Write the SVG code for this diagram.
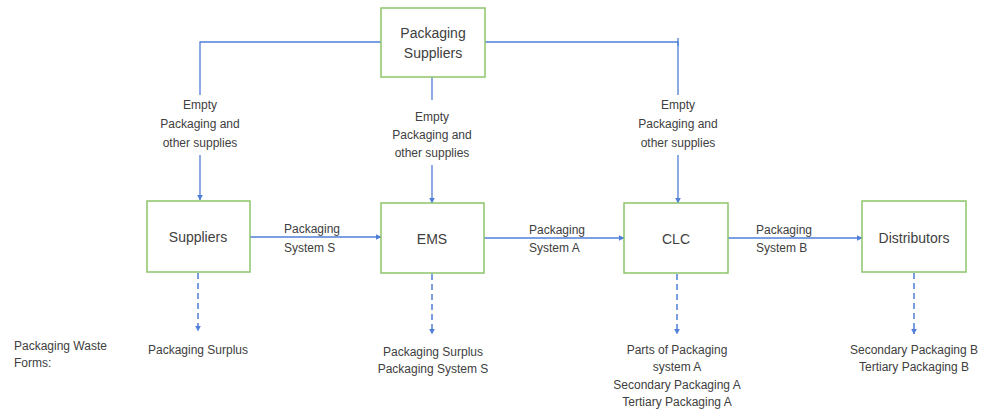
<svg xmlns="http://www.w3.org/2000/svg" width="982" height="412" viewBox="0 0 982 412">
  <style>
    .box { fill: #ffffff; stroke: #8cc46a; stroke-width: 1.5; }
    .flow { fill: none; stroke: #4f7fd6; stroke-width: 1.3; }
    .waste { fill: none; stroke: #4f7fd6; stroke-width: 1.5; stroke-dasharray: 6 4; }
    text { font-family: "Liberation Sans", Arial, sans-serif; font-size: 12px; fill: #404040; }
    .c { text-anchor: middle; }
    .node { font-size: 14px; }
  </style>
  <defs>
    <marker id="arr" viewBox="0 0 10 10" refX="9" refY="5" markerWidth="6" markerHeight="6" orient="auto" markerUnits="userSpaceOnUse">
      <path d="M0,0 L10,5 L0,10 z" fill="#4f7fd6"/>
    </marker>
  </defs>
  <rect width="982" height="412" fill="#ffffff"/>

  <g id="connectors">
    <!-- supply lines from Packaging Suppliers -->
    <path class="flow" d="M381,42 H200 V95"/>
    <path class="flow" d="M200,155 V200" marker-end="url(#arr)"/>
    <path class="flow" d="M432,77 V100"/>
    <path class="flow" d="M432,165 V203" marker-end="url(#arr)"/>
    <path class="flow" d="M485,42 H678 V95"/>
    <path class="flow" d="M678,38 V46"/>
    <path class="flow" d="M678,155 V203" marker-end="url(#arr)"/>
    <!-- packaging system flows -->
    <path class="flow" d="M250,237 H381" marker-end="url(#arr)"/>
    <path class="flow" d="M484,238 H624" marker-end="url(#arr)"/>
    <path class="flow" d="M728,238 H862" marker-end="url(#arr)"/>
    <!-- waste outputs -->
    <path class="waste" d="M198,273 V331" marker-end="url(#arr)"/>
    <path class="waste" d="M432,274 V334" marker-end="url(#arr)"/>
    <path class="waste" d="M677,274 V334" marker-end="url(#arr)"/>
    <path class="waste" d="M914,273 V334" marker-end="url(#arr)"/>

    <text class="c" x="200" y="109">Empty</text>
    <text class="c" x="200" y="128">Packaging and</text>
    <text class="c" x="200" y="147">other supplies</text>
    <text class="c" x="432" y="121">Empty</text>
    <text class="c" x="432" y="139">Packaging and</text>
    <text class="c" x="432" y="157">other supplies</text>
    <text class="c" x="678" y="109">Empty</text>
    <text class="c" x="678" y="128">Packaging and</text>
    <text class="c" x="678" y="147">other supplies</text>

    <text x="284" y="233">Packaging</text>
    <text x="284" y="252">System S</text>
    <text x="529" y="234">Packaging</text>
    <text x="529" y="252">System A</text>
    <text x="756" y="234">Packaging</text>
    <text x="756" y="252">System B</text>
  </g>

  <g id="packaging-suppliers">
    <rect class="box" x="381" y="8" width="104" height="69"/>
    <text class="c node" x="433" y="38">Packaging</text>
    <text class="c node" x="433" y="58">Suppliers</text>
  </g>
  <g id="suppliers">
    <rect class="box" x="147" y="201" width="103" height="71"/>
    <text class="c node" x="198" y="242">Suppliers</text>
  </g>
  <g id="ems">
    <rect class="box" x="381" y="203" width="103" height="70"/>
    <text class="c node" x="432" y="244">EMS</text>
  </g>
  <g id="clc">
    <rect class="box" x="624" y="203" width="104" height="70"/>
    <text class="c node" x="676" y="244">CLC</text>
  </g>
  <g id="distributors">
    <rect class="box" x="862" y="201" width="104" height="71"/>
    <text class="c node" x="914" y="243">Distributors</text>
  </g>

  <g id="waste-forms">
    <text x="14" y="350">Packaging Waste</text>
    <text x="14" y="367">Forms:</text>
    <text class="c" x="198" y="354">Packaging Surplus</text>
    <text class="c" x="433" y="356">Packaging Surplus</text>
    <text class="c" x="433" y="373">Packaging System S</text>
    <text class="c" x="677" y="354">Parts of Packaging</text>
    <text class="c" x="677" y="371">system A</text>
    <text class="c" x="677" y="389">Secondary Packaging A</text>
    <text class="c" x="677" y="406">Tertiary Packaging A</text>
    <text class="c" x="914" y="354">Secondary Packaging B</text>
    <text class="c" x="914" y="371">Tertiary Packaging B</text>
  </g>
</svg>
